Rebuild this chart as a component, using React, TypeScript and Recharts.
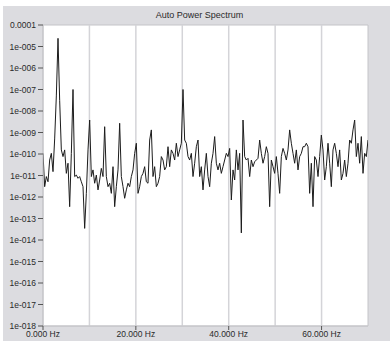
import { LineChart, Line, XAxis, YAxis, ReferenceLine, ReferenceArea } from 'recharts'

// FFT bin spacing: 196 bins covering 0 .. 70 kHz
const binHz = 70000 / 195

// log10 of the auto power spectrum, one value per bin
const logPower = [
  -9.97, -11.52, -11.05, -11.29, -10.28, -9.97, -10.82, -9.3, -7.3, -4.62,
  -7.5, -9.81, -10.12, -9.81, -10.9, -10.43, -12.45, -9.97, -7.0, -11.05,
  -10.98, -11.13, -11.05, -11.29, -11.52, -13.46, -11.83, -9.81, -8.42, -11.05,
  -10.74, -11.36, -10.98, -11.67, -11.21, -10.67, -11.05, -8.73, -11.05, -11.52,
  -11.36, -11.83, -10.59, -12.45, -11.52, -10.74, -8.57, -11.05, -11.52, -12.06,
  -11.67, -11.36, -11.52, -11.05, -10.74, -9.97, -9.5, -11.83, -11.52, -11.05,
  -10.9, -10.59, -11.29, -11.36, -9.35, -8.88, -11.05, -10.59, -11.52, -11.36,
  -11.05, -10.12, -10.28, -10.74, -10.59, -9.66, -10.59, -9.81, -9.97, -10.28,
  -9.5, -10.12, -9.81, -9.5, -7.0, -9.35, -9.5, -10.12,
  -10.28, -9.97, -11.05, -10.43, -9.66, -9.35, -11.05, -10.59, -11.67, -10.74,
  -9.97, -11.05, -11.52, -10.43, -9.97, -9.19, -10.43, -10.74, -10.43, -10.9,
  -10.59, -10.28, -9.97, -10.12, -9.74, -12.14, -10.74, -11.21, -9.81, -10.74,
  -9.97, -13.67, -8.42, -10.12, -10.28, -10.2, -11.05, -10.28, -10.59, -10.36,
  -10.28, -10.2, -9.35, -9.97, -10.43, -10.12, -9.66, -9.97, -12.45, -10.28,
  -10.59, -10.9, -10.12, -10.9, -11.83, -10.12, -9.74, -9.97, -10.28, -9.81,
  -8.88, -9.5, -9.97, -10.43, -9.81, -10.74, -10.12, -9.97, -9.66, -9.66,
  -9.5, -9.66, -11.83, -10.43, -12.45, -10.12, -10.28, -11.05, -10.12, -9.12,
  -9.81, -11.21, -10.59, -9.5, -10.43, -11.52, -9.81, -9.5, -9.97, -10.59,
  -9.81, -11.21, -10.9, -10.28, -11.05, -10.43, -9.35, -9.5, -8.88, -8.42,
  -10.12, -9.5, -10.43, -9.19, -10.9, -9.97, -10.12, -9.35,
]

const freqTicks = [0, 20000, 40000, 60000]
const gridFreqs = [10000, 20000, 30000, 40000, 50000, 60000]
const decadeExps = [-4, -5, -6, -7, -8, -9, -10, -11, -12, -13, -14, -15, -16, -17, -18]

const data = logPower.map((lp, i) => ({ freq: i * binHz, power: Math.pow(10, lp) }))
const yTicks = decadeExps.map((e) => Math.pow(10, e))

const fmtY = (v: number) => {
  const e = Math.round(Math.log10(v))
  if (e === -4) return '0.0001'
  return '1e-' + String(-e).padStart(3, '0')
}
const fmtX = (v: number) => `${(v / 1000).toFixed(3)} Hz`

const font = { fill: '#2a2a2a', fontSize: 8.5, fontFamily: 'Liberation Sans, Arial, sans-serif' }

export default function App() {
  return (
    <div style={{ position: 'relative', width: 390, height: 341, background: '#fff', overflow: 'hidden' }}>
      <style>{'body{margin:0}'}</style>
      <div style={{ position: 'absolute', left: 3, top: 6, width: 387, height: 335, background: '#dcdce0' }} />
      <div
        style={{
          position: 'absolute', left: 0, top: 10, width: 399, textAlign: 'center',
          fontFamily: 'Liberation Sans, Arial, sans-serif', fontSize: 9, color: '#2a2a2a', lineHeight: '11px',
        }}
      >
        Auto Power Spectrum
      </div>
      <div style={{ position: 'absolute', left: 0, top: 0 }}>
        <LineChart width={390} height={341} data={data} margin={{ top: 25, right: 22, bottom: 0, left: 0 }}>
          <ReferenceArea
            x1={0} x2={70000} y1={1e-18} y2={1e-4}
            fill="#ffffff" fillOpacity={1} stroke="#c4c4c8" strokeWidth={1}
          />
          {gridFreqs.map((f) => (
            <ReferenceLine key={f} x={f} stroke="#d4d4d8" strokeWidth={1.5} />
          ))}
          <XAxis
            dataKey="freq" type="number" domain={[0, 70000]} ticks={freqTicks}
            tickFormatter={fmtX} tick={font} tickSize={4} tickMargin={1}
            axisLine={{ stroke: '#c4c4c8' }} tickLine={{ stroke: '#555' }}
            height={15} allowDataOverflow
          />
          <YAxis
            scale="log" domain={[1e-18, 1e-4]} ticks={yTicks} type="number"
            tickFormatter={fmtY} tick={font} tickSize={5} tickMargin={2}
            axisLine={{ stroke: '#c4c4c8' }} tickLine={{ stroke: '#555' }}
            width={43} allowDataOverflow interval={0}
          />
          <Line
            type="linear" dataKey="power" stroke="#1c1c1c" strokeWidth={1}
            dot={false} isAnimationActive={false}
          />
        </LineChart>
      </div>
    </div>
  )
}
